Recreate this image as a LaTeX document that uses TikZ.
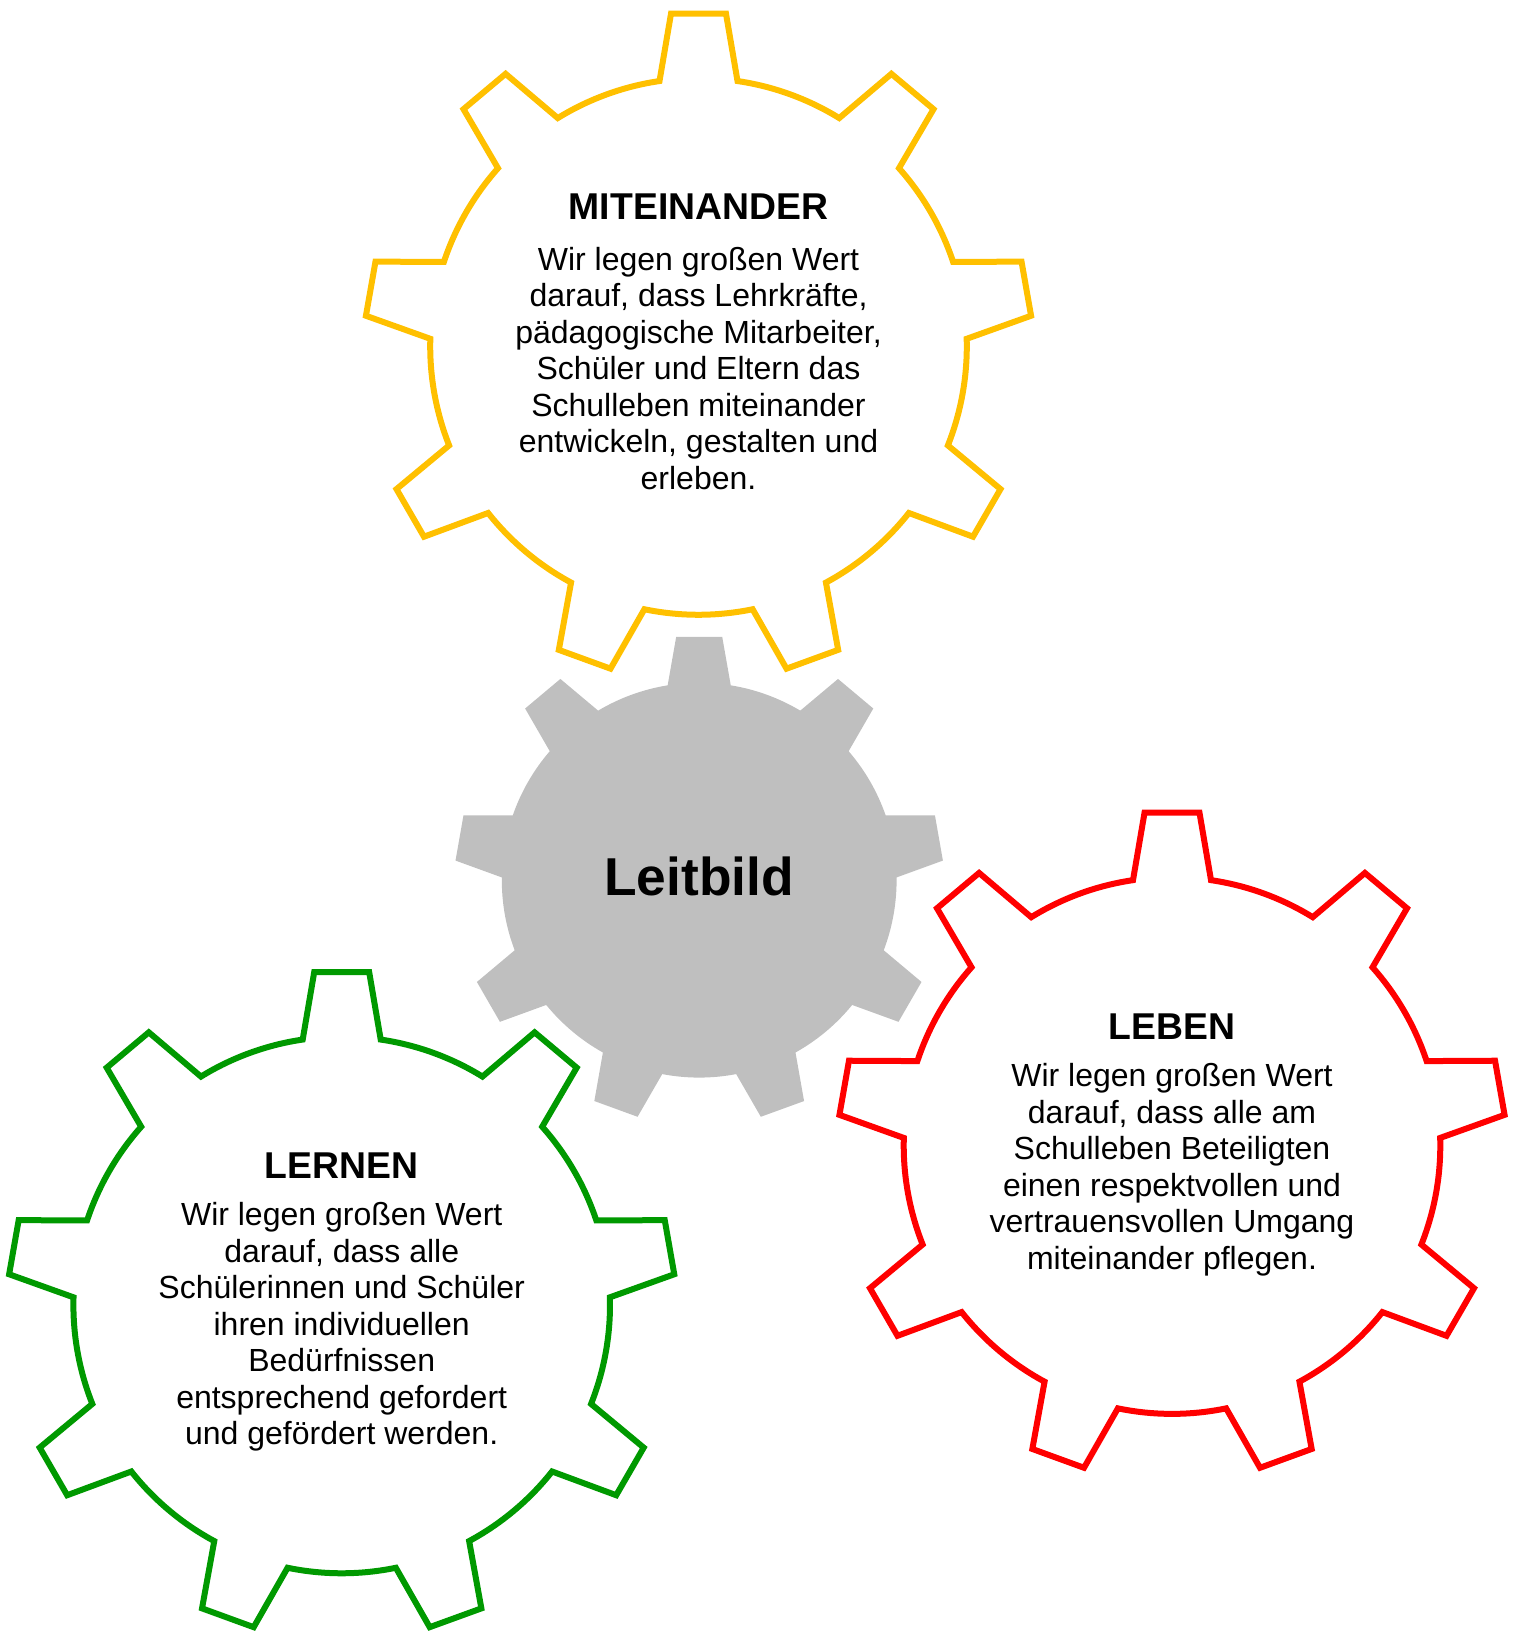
\documentclass[tikz,border=0pt]{standalone}
\usepackage{fontspec}
\setmainfont{Liberation Sans}
\usetikzlibrary{calc}

\definecolor{cogyellow}{HTML}{FFC000}
\definecolor{cogred}{HTML}{FF0000}
\definecolor{coggreen}{HTML}{009900}
\definecolor{coggray}{HTML}{BFBFBF}

\begin{document}
\begin{tikzpicture}[x=0.75pt, y=0.75pt,
    pics/cog/.style args={#1/#2/#3/#4}{code={
        \path[pic actions] (90-#4:#1)
            \foreach \k [evaluate=\k as \a using 90+40*\k] in {0,...,8}{
                -- (\a-#3:#2) -- (\a+#3:#2) -- (\a+#4:#1)
                arc[start angle=\a+#4, end angle=\a+40-#4, radius=#1]
            } -- cycle;
    }},
    cogline/.style={draw=#1, line width=4.5pt},
    cogtitle/.style={font=\fontsize{28}{32}\selectfont\bfseries, anchor=base, inner sep=0pt},
    cogtext/.style={font=\fontsize{24}{27.4}\selectfont, align=center, anchor=base, inner sep=0pt}]

    \useasboundingbox (0,0) rectangle (1516,1631);

    % Gear centres
    \coordinate (mit) at (698.5,1284.5);
    \coordinate (lb) at (699.2,750.8);
    \coordinate (leb) at (1172,485.4);
    \coordinate (lern) at (341.7,326);

    % Gears
    \pic[fill=coggray] at (lb) {cog=197.4/244.5/5.4/9.2};
    \pic[cogline=cogyellow] at (mit) {cog=268.3/334/4.72/8.36};
    \pic[cogline=cogred] at (leb) {cog=268.3/334/4.72/8.36};
    \pic[cogline=coggreen] at (lern) {cog=268.3/334/4.72/8.36};

    % Texts (the base of a text block is its last line)
    \node[font=\fontsize{40}{44}\selectfont\bfseries, anchor=base, inner sep=0pt] (leitbild) at ($(lb)+(0,-14.9)$) {Leitbild};

    \node[cogtitle] (mitTitle) at ($(mit)+(0,126.5)$) {MITEINANDER};
    \node[cogtext] (mitText) at ($(mitTitle.base)+(0,-269.3)$) {Wir legen großen Wert\\darauf, dass Lehrkräfte,\\pädagogische Mitarbeiter,\\Schüler und Eltern das\\Schulleben miteinander\\entwickeln, gestalten und\\erleben.};

    \node[cogtitle] (lebTitle) at ($(leb)+(0,106.3)$) {LEBEN};
    \node[cogtext] (lebText) at ($(lebTitle.base)+(0,-230)$) {Wir legen großen Wert\\darauf, dass alle am\\Schulleben Beteiligten\\einen respektvollen und\\vertrauensvollen Umgang\\miteinander pflegen.};

    \node[cogtitle] (lernTitle) at ($(lern)+(0,126.7)$) {LERNEN};
    \node[cogtext] (lernText) at ($(lernTitle.base)+(0,-266.7)$) {Wir legen großen Wert\\darauf, dass alle\\Schülerinnen und Schüler\\ihren individuellen\\Bedürfnissen\\entsprechend gefordert\\und gefördert werden.};

\end{tikzpicture}
\end{document}
